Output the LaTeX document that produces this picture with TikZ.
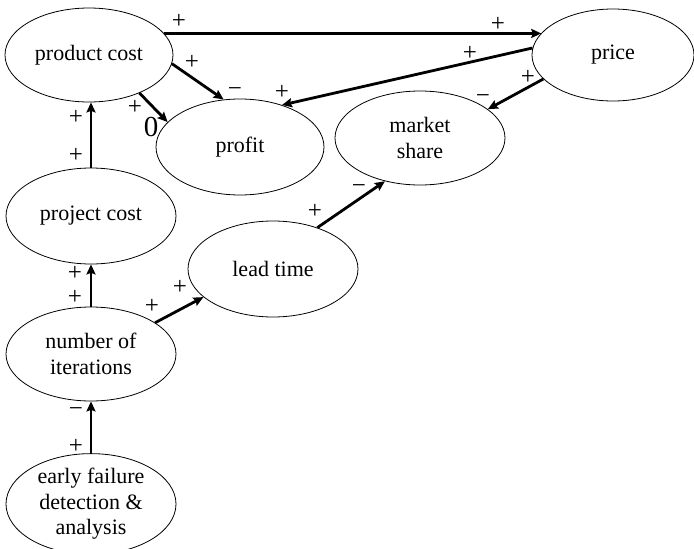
\documentclass[tikz,border=0pt]{standalone}
\usepackage{fontspec}
\setmainfont{Liberation Serif}
\usetikzlibrary{shapes.geometric,arrows.meta}
\begin{document}
\begin{tikzpicture}[x=1pt,y=-1pt,
  var/.style={ellipse,draw,line width=0.8pt,inner sep=0pt,align=center,
     font=\fontsize{22}{25.5}\selectfont},
  link/.style={line width=2.8pt,-{Stealth[length=10pt,width=9pt,inset=1.5pt]}},
  sgn/.style={inner sep=0pt,font=\fontsize{25}{27}\selectfont}]
\useasboundingbox (0,0) rectangle (694,549);
\node[var,minimum width=168pt,minimum height=94pt] (pc) at (89,55) {product cost};
\node[var,minimum width=162pt,minimum height=92pt] (pr) at (613,55) {price};
\node[var,minimum width=168pt,minimum height=96pt] (pf) at (240,147) {profit};
\node[var,minimum width=170pt,minimum height=94pt] (ms) at (420,138) {market\\share};
\node[var,minimum width=170pt,minimum height=96pt] (pj) at (91,216) {project cost};
\node[var,minimum width=170pt,minimum height=96pt] (lt) at (273,269) {lead time};
\node[var,minimum width=170pt,minimum height=94pt] (it) at (91,354) {number of\\iterations};
\node[var,minimum width=170pt,minimum height=98pt] (ef) at (91,504) {early failure\\detection \&\\analysis};

\draw[link] (pc.16) -- (pc.16 -| pr.163);
\draw[link] (pc.-6) -- (pf.109.5);
\draw[link] (pc.-37) -- (pf.161);
\draw[link] (pr.175) -- (pf.45.7);
\draw[link] (pr.-161) -- (ms.23);
\draw[link] (lt.43) -- (ms.-129);
\draw[link] (pj.north) -- (pj.north |- pc.south);
\draw[link] (it.north) -- (it.north |- pj.south);
\draw[link] (it.26) -- (lt.-158);
\draw[link] (ef.north) -- (ef.north |- it.south);

\node[sgn] (s1) at (179,21) {+};
\node[sgn] (s2) at (498,24) {+};
\node[sgn] (s3) at (192,62) {+};
\node[sgn] (s4) at (235,92) {−};
\node[sgn] (s5) at (282,92) {+};
\node[sgn] (s6) at (135,107) {+};
\node[sgn,font=\fontsize{29}{30}\selectfont] (s7) at (151,127) {0};
\node[sgn] (s8) at (470,53) {+};
\node[sgn] (s9) at (528,77) {+};
\node[sgn] (s10) at (483,99) {−};
\node[sgn] (s11) at (315,211) {+};
\node[sgn] (s12) at (359,189) {−};
\node[sgn] (s13) at (76,117) {+};
\node[sgn] (s14) at (76,155) {+};
\node[sgn] (s15) at (75,273) {+};
\node[sgn] (s16) at (75,297) {+};
\node[sgn] (s17) at (152,306) {+};
\node[sgn] (s18) at (180,287) {+};
\node[sgn] (s19) at (76,412) {−};
\node[sgn] (s20) at (76,446) {+};
\end{tikzpicture}
\end{document}
